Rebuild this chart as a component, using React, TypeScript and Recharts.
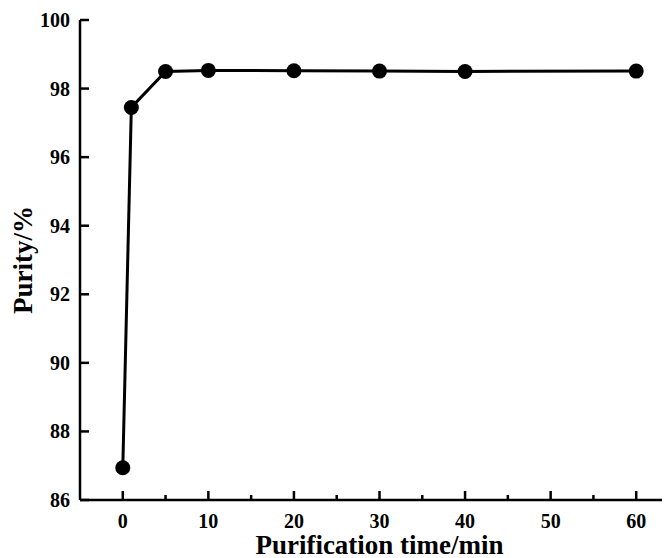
import React from "react";
import { LineChart, Line, XAxis, YAxis } from "recharts";

// 정제 시간(min) vs 순도(%)
const times = [0, 1, 5, 10, 20, 30, 40, 60];
const purity = [86.94, 97.45, 98.5, 98.53, 98.52, 98.51, 98.5, 98.51];

const xTicks = [0, 5, 10, 15, 20, 25, 30, 35, 40, 45, 50, 55, 60];
const yTicks = [86, 88, 90, 92, 94, 96, 98, 100];

const xTitle = "Purification time/min";
const yTitle = "Purity/%";

const data = times.map((t, i) => ({ time: t, purity: purity[i] }));

const FONT = "'Liberation Serif', 'Times New Roman', Times, 'DejaVu Serif', serif";
const textStyle = { fontFamily: FONT, fontWeight: 700, fill: "#000" };
const X_MARGIN = 12;
const Y_MARGIN = 12;

/** x축 눈금: 10 단위는 긴 눈금+라벨, 5 단위는 짧은 보조 눈금 (안쪽 방향) */
function XTick(props: any) {
  const { x, y, payload } = props;
  const v = payload.value as number;
  const major = v % 10 === 0;
  const axisY = y - X_MARGIN;
  return (
    <g>
      <line x1={x} x2={x} y1={axisY} y2={axisY - (major ? 9 : 5)} stroke="#000" strokeWidth={2.5} />
      {major && (
        <text x={x} y={axisY + 28} textAnchor="middle" style={{ ...textStyle, fontSize: 20 }}>
          {v}
        </text>
      )}
    </g>
  );
}

/** y축 눈금: 안쪽 눈금 + 라벨 */
function YTick(props: any) {
  const { x, y, payload } = props;
  const axisX = x + Y_MARGIN;
  return (
    <g>
      <line x1={axisX} x2={axisX + 9} y1={y} y2={y} stroke="#000" strokeWidth={2.5} />
      <text x={axisX - 10} y={y + 7} textAnchor="end" style={{ ...textStyle, fontSize: 20 }}>
        {payload.value}
      </text>
    </g>
  );
}

function XTitle(props: any) {
  const { viewBox } = props;
  const cx = viewBox.x + viewBox.width / 2;
  return (
    <text x={cx} y={546} textAnchor="middle" style={{ ...textStyle, fontSize: 27 }}>
      {xTitle}
    </text>
  );
}

function YTitle(props: any) {
  const { viewBox } = props;
  const cx = viewBox.x + 24;
  const cy = viewBox.y + viewBox.height / 2;
  return (
    <text
      x={cx}
      y={cy}
      transform={`rotate(-90, ${cx}, ${cy})`}
      textAnchor="middle"
      style={{ ...textStyle, fontSize: 27 }}
    >
      {yTitle}
    </text>
  );
}

export default function App() {
  return (
    <div style={{ width: 662, height: 550, overflow: "hidden", fontFamily: FONT }}>
      <LineChart
        width={700}
        height={550}
        data={data}
        margin={{ top: 12, right: 29, left: 0, bottom: 0 }}
      >
        <XAxis
          dataKey="time"
          type="number"
          domain={[-5, 65]}
          ticks={xTicks}
          interval={0}
          height={58}
          tickLine={false}
          tickSize={0}
          tickMargin={X_MARGIN}
          tick={<XTick />}
          axisLine={{ stroke: "#000", strokeWidth: 2.5 }}
          label={<XTitle />}
        />
        <XAxis
          xAxisId="top"
          dataKey="time"
          type="number"
          domain={[-5, 65]}
          orientation="top"
          height={0}
          tick={false}
          tickLine={false}
          axisLine={{ stroke: "#000", strokeWidth: 2.5 }}
        />
        <YAxis
          type="number"
          domain={[86, 100]}
          ticks={yTicks}
          interval={0}
          width={72}
          tickLine={false}
          tickSize={0}
          tickMargin={Y_MARGIN}
          tick={<YTick />}
          axisLine={{ stroke: "#000", strokeWidth: 2.5 }}
          label={<YTitle />}
        />
        <YAxis
          yAxisId="right"
          orientation="right"
          type="number"
          domain={[86, 100]}
          width={0}
          tick={false}
          tickLine={false}
          axisLine={{ stroke: "#000", strokeWidth: 2.5 }}
        />
        <Line
          dataKey="purity"
          stroke="#000"
          strokeWidth={3}
          dot={{ r: 7.5, fill: "#000", stroke: "#000", strokeWidth: 0 }}
          activeDot={false}
          isAnimationActive={false}
        />
      </LineChart>
    </div>
  );
}
